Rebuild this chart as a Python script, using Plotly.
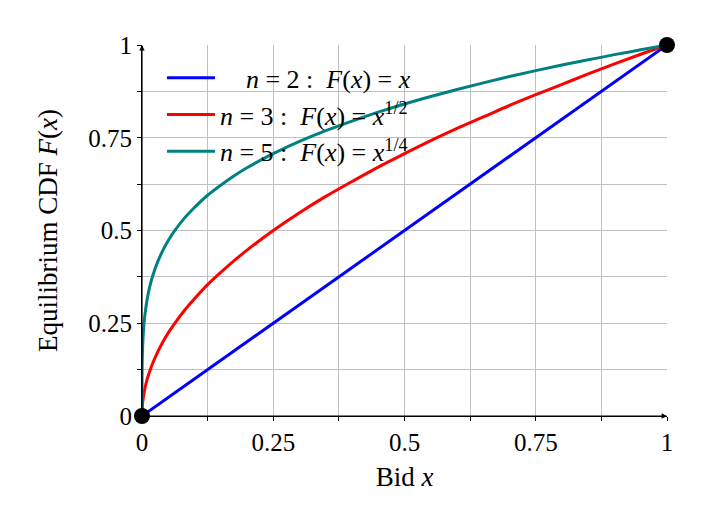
import plotly.graph_objects as go

bid_x = [0, 0.0001, 0.0002, 0.0005, 0.001, 0.0025, 0.005, 0.01, 0.015, 0.02, 0.03,
         0.04, 0.05, 0.06, 0.08, 0.1, 0.125, 0.15, 0.175, 0.2, 0.25, 0.3, 0.35,
         0.4, 0.45, 0.5, 0.55, 0.6, 0.65, 0.7, 0.75, 0.8, 0.85, 0.9, 0.95, 1.0]

cdf_n2_x = [0, 1]
cdf_n2 = [0, 1]

cdf_n3 = [0, 0.010, 0.014, 0.022, 0.032, 0.05, 0.071, 0.1, 0.122, 0.141, 0.173,
          0.2, 0.224, 0.245, 0.283, 0.316, 0.354, 0.387, 0.418, 0.447, 0.5, 0.548, 0.592,
          0.632, 0.671, 0.707, 0.742, 0.775, 0.806, 0.837, 0.866, 0.894, 0.922, 0.949, 0.975, 1.0]

cdf_n5 = [0, 0.1, 0.119, 0.15, 0.178, 0.224, 0.266, 0.316, 0.35, 0.376, 0.416,
          0.447, 0.473, 0.495, 0.532, 0.562, 0.595, 0.622, 0.647, 0.669, 0.707, 0.740, 0.769,
          0.795, 0.819, 0.841, 0.861, 0.880, 0.898, 0.915, 0.931, 0.946, 0.960, 0.974, 0.987, 1.0]

end_x = [0, 1]
end_y = [0, 1]

tick_vals = [0, 0.25, 0.5, 0.75, 1]
tick_text = ["0", "0.25", "0.5", "0.75", "1"]

serif = "Liberation Serif"
grid_col = "#bfbfbf"
eq = "&nbsp;=&nbsp;"

fig = go.Figure()

fig.add_trace(go.Scatter(x=cdf_n2_x, y=cdf_n2, mode="lines",
                         name="&nbsp;&nbsp;&nbsp;&nbsp;<i>n</i>" + eq + "2 :&nbsp;&nbsp;<i>F</i>(<i>x</i>)" + eq + "<i>x</i>",
                         line=dict(color="#0000ff", width=3), legendgroup="a"))
fig.add_trace(go.Scatter(x=bid_x, y=cdf_n3, mode="lines", line_shape="spline",
                         name="<i>n</i>" + eq + "3 :&nbsp;&nbsp;<i>F</i>(<i>x</i>)" + eq + "<i>x</i><sup>1/2</sup>",
                         line=dict(color="#ff0000", width=3), legendgroup="b"))
fig.add_trace(go.Scatter(x=bid_x, y=cdf_n5, mode="lines", line_shape="spline",
                         name="<i>n</i>" + eq + "5 :&nbsp;&nbsp;<i>F</i>(<i>x</i>)" + eq + "<i>x</i><sup>1/4</sup>",
                         line=dict(color="#008080", width=3), legendgroup="c"))
fig.add_trace(go.Scatter(x=end_x, y=end_y, mode="markers", showlegend=False,
                         marker=dict(color="black", size=16), cliponaxis=False))

axis_common = dict(
    range=[0, 1], tickvals=tick_vals, ticktext=tick_text,
    showgrid=True, gridcolor=grid_col, gridwidth=1,
    minor=dict(dtick=0.125, showgrid=True, gridcolor=grid_col, gridwidth=1,
               ticks="outside", ticklen=4, tickcolor="black"),
    ticks="outside", ticklen=4, tickcolor="black",
    showline=True, linecolor="black", linewidth=1, zeroline=False,
    tickfont=dict(family=serif, size=25, color="black"),
)

fig.update_layout(
    width=710, height=522,
    margin=dict(l=134, r=51, t=37, b=114),
    plot_bgcolor="white", paper_bgcolor="white",
    xaxis=dict(axis_common, title=dict(text="Bid <i>x</i>", standoff=12,
                                       font=dict(family=serif, size=27, color="black"))),
    yaxis=dict(axis_common, title=dict(text="Equilibrium CDF <i>F</i>(<i>x</i>)", standoff=22,
                                       font=dict(family=serif, size=27, color="black"))),
    legend=dict(x=0.038, y=0.975, xanchor="left", yanchor="top",
                bgcolor="rgba(0,0,0,0)", borderwidth=0, tracegroupgap=0,
                itemwidth=48,
                font=dict(family=serif, size=26, color="black")),
)

# arrow heads at the end of both axes
fig.add_annotation(x=1, y=0, ax=0, ay=0, xref="x", yref="y", axref="x", ayref="y",
                   showarrow=True, arrowhead=2, arrowsize=0.9, arrowwidth=1.2,
                   arrowcolor="black", text="")
fig.add_annotation(x=0, y=1, ax=0, ay=0, xref="x", yref="y", axref="x", ayref="y",
                   showarrow=True, arrowhead=2, arrowsize=0.9, arrowwidth=1.2,
                   arrowcolor="black", text="")

fig.write_html("out.html")
